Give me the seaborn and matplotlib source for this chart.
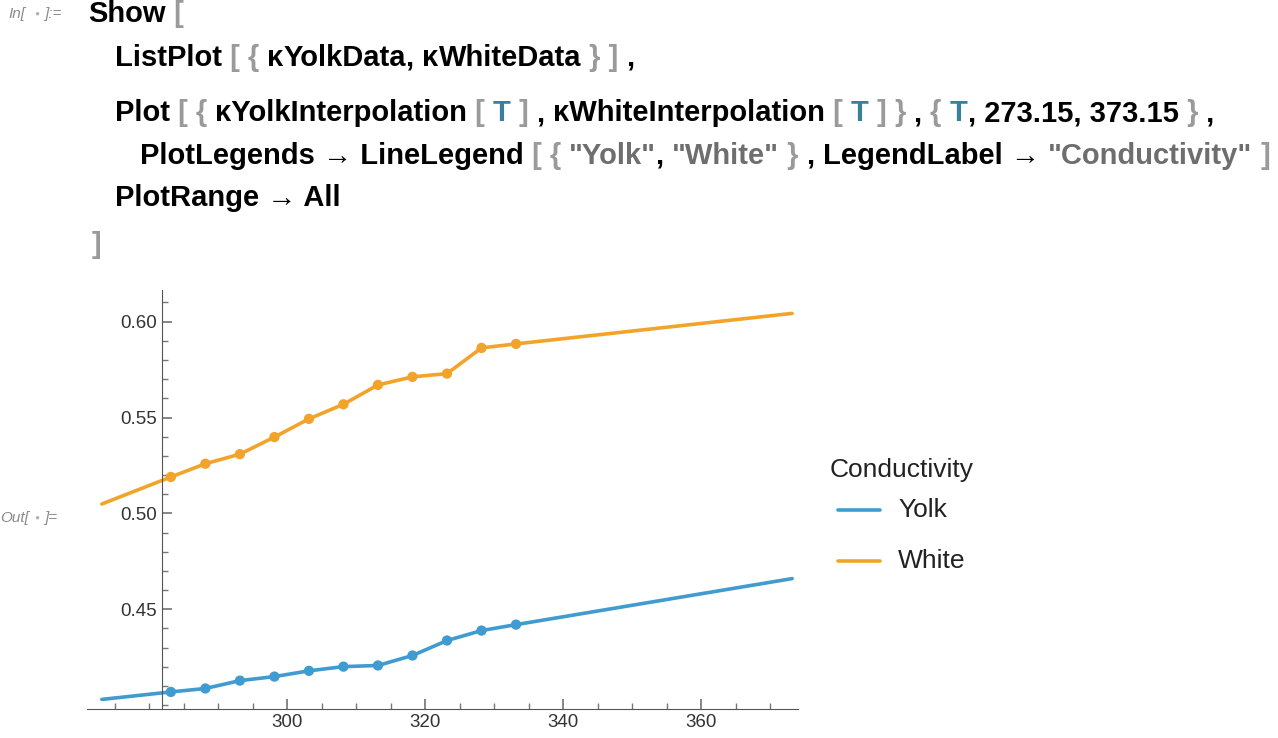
import numpy as np
import pandas as pd
import matplotlib
matplotlib.use("Agg")
import matplotlib.pyplot as plt
import seaborn as sns

T_data = [283.15, 288.15, 293.15, 298.15, 303.15, 308.15, 313.15, 318.15, 323.15, 328.15, 333.15]
yolk = [0.4069, 0.4087, 0.4128, 0.4149, 0.4179, 0.4201, 0.4207, 0.4259, 0.4337, 0.4389, 0.4420]
white = [0.519, 0.5259, 0.5309, 0.5398, 0.5493, 0.5569, 0.5670, 0.5712, 0.5729, 0.5863, 0.5884]
T_range = [273.15, 373.15]
yolk_ends = [0.403, 0.466]
white_ends = [0.5049, 0.6043]

BLUE = "#3f9bd0"
ORANGE = "#f2a42a"

sns.set_theme(style="white")
plt.rcParams['font.family'] = ['Liberation Sans', 'DejaVu Sans']

fig = plt.figure(figsize=(12.78, 7.38), dpi=100)
W, H = 1278, 738

BLK, GRY, TEAL, STR = "#000000", "#9a9a9a", "#3a7f9c", "#6e6e6e"
fig.text(8/W, 1-14/H, "In[", fontsize=11, color="#8a8a8a", style="italic", va="center")
fig.text(34/W, 1-14/H, "●", fontsize=6, color="#b0b0b0", va="center")
fig.text(44/W, 1-14/H, "]:=", fontsize=11, color="#8a8a8a", style="italic", va="center")
fig.text(0/W, 1-518/H, "Out[", fontsize=11, color="#8a8a8a", style="italic", va="center")
fig.text(34/W, 1-518/H, "●", fontsize=6, color="#b0b0b0", va="center")
fig.text(44/W, 1-518/H, "]=", fontsize=11, color="#8a8a8a", style="italic", va="center")

lines = [
    (88, 14, [("Show", BLK), (" [", GRY)]),
    (115, 58, [("ListPlot", BLK), (" [ { ", GRY), ("κ", BLK), ("YolkData", BLK), (", ", BLK),
               ("κ", BLK), ("WhiteData", BLK), (" } ] ", GRY), (",", BLK)]),
    (115, 113, [("Plot", BLK), (" [ { ", GRY), ("κYolkInterpolation", BLK), (" [ ", GRY), ("T", TEAL),
                (" ] ", GRY), (", ", BLK), ("κWhiteInterpolation", BLK), (" [ ", GRY), ("T", TEAL), (" ] ", GRY),
                ("} ", GRY), (", ", BLK), ("{ ", GRY), ("T", TEAL), (", 273.15, 373.15", BLK), (" }", GRY), (" ,", BLK)]),
    (140, 156, [("PlotLegends → LineLegend", BLK), (" [ { ", GRY), ('"Yolk"', STR), (", ", BLK), ('"White"', STR),
                (" } ", GRY), (", ", BLK), ("LegendLabel → ", BLK), ('"Conductivity"', STR), (" ] ", GRY), (",", BLK)]),
    (115, 198, [("PlotRange → All", BLK)]),
    (92, 245, [("]", GRY)]),
]
fig.canvas.draw()
r = fig.canvas.get_renderer()
for x0, y0, segs in lines:
    x = x0
    for s, c in segs:
        t = fig.text(x/W, 1-y0/H, s, fontsize=21, fontweight="bold", color=c, va="center")
        bb = t.get_window_extent(renderer=r)
        x += bb.width

ax = fig.add_axes([87/W, 1-709/H, (798-87)/W, (709-290)/H])
df = pd.DataFrame({
    "T": T_data * 2 + T_range * 2,
    "k": yolk + white + yolk_ends + white_ends,
    "s": ["Yolk"] * 11 + ["White"] * 11 + ["Yolk"] * 2 + ["White"] * 2,
}).sort_values("T")
sns.lineplot(data=df, x="T", y="k", hue="s", hue_order=["Yolk", "White"],
             palette=[BLUE, ORANGE], lw=2.6, ax=ax, legend=False, sort=True, estimator=None)
pts = pd.DataFrame({"T": T_data * 2, "k": yolk + white, "s": ["Yolk"] * 11 + ["White"] * 11})
sns.scatterplot(data=pts, x="T", y="k", hue="s", palette=[BLUE, ORANGE], s=55, edgecolor="none",
                ax=ax, legend=False, zorder=5)
ax.set_xlim(271, 374)
ax.set_ylim(0.398, 0.6165)
ax.set_xlabel("")
ax.set_ylabel("")
for sp in ["top", "right"]:
    ax.spines[sp].set_visible(False)
ax.spines["left"].set_position(("data", 281.8))
for sp in ["left", "bottom"]:
    ax.spines[sp].set_color("#555555")
    ax.spines[sp].set_linewidth(0.8)
ax.set_xticks([300, 320, 340, 360])
ax.set_xticks(np.arange(275, 375, 5), minor=True)
ax.set_yticks([0.45, 0.50, 0.55, 0.60])
ax.set_yticklabels(["0.45", "0.50", "0.55", "0.60"])
ax.set_yticks(np.arange(0.40, 0.615, 0.01), minor=True)
ax.tick_params(which="both", direction="in", colors="#777777", labelcolor="#333333", labelsize=13.5,
               bottom=True, left=True)
ax.tick_params(which="major", length=7)
ax.tick_params(which="minor", length=4)

fig.text(830/W, 1-470/H, "Conductivity", fontsize=19, color="#222222", va="center")
for i, (lab, c) in enumerate([("Yolk", BLUE), ("White", ORANGE)]):
    yy = 1 - (510 + 51*i)/H
    fig.add_artist(plt.Line2D([838/W, 880/W], [yy, yy], color=c, lw=2.6))
    fig.text(898/W, yy, lab, fontsize=19, color="#222222", va="center")

fig.savefig("out.png", dpi=100)
